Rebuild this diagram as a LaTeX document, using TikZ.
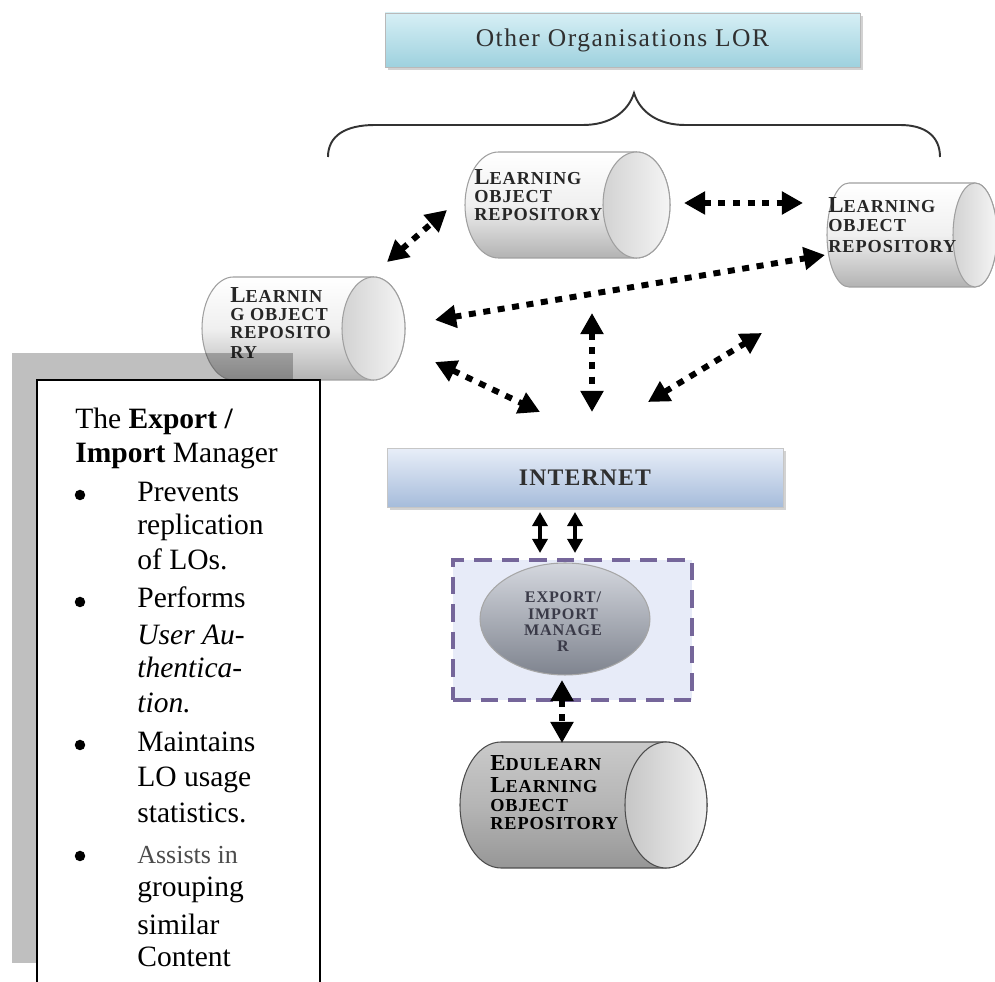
\documentclass[tikz,border=0pt]{standalone}
\usepackage{fontspec}
\setmainfont{Liberation Serif}
\newfontfamily\cylfont[LetterSpace=5]{Liberation Serif}
\newfontfamily\widefont[LetterSpace=6]{Liberation Serif}
\usetikzlibrary{arrows.meta,shadows,shapes.geometric}

\definecolor{lorTop}{HTML}{D6EFF5}
\definecolor{lorBot}{HTML}{9ED1DE}
\definecolor{netTop}{HTML}{E8EEF8}
\definecolor{netBot}{HTML}{A6BCDB}
\definecolor{dashCol}{HTML}{75669A}
\definecolor{dashFill}{HTML}{E7EBF8}
\definecolor{textGray}{HTML}{303030}
\definecolor{ellText}{HTML}{3A3A48}
\definecolor{ellTop}{HTML}{D4D7DE}
\definecolor{ellBot}{HTML}{7F848F}

\newcommand\bigi[1]{{\fontsize{13}{12}\selectfont #1}}

\newcommand\lorcyl[7]{%
  \pgfmathsetmacro\lorXa{#2+#6}%
  \pgfmathsetmacro\lorXb{#4-#6}%
  \pgfmathsetmacro\lorCy{(#3+#5)/2}%
  \pgfmathsetmacro\lorRy{(#5-#3)/2}%
  \path[#7body] (\lorXa,#3) -- (\lorXb,#3)
     arc[start angle=-90,end angle=90,x radius=#6,y radius=\lorRy]
     -- (\lorXa,#5)
     arc[start angle=90,end angle=270,x radius=#6,y radius=\lorRy] -- cycle;
  \path[#7face] (\lorXb,\lorCy) ellipse[x radius=#6,y radius=\lorRy];
  \coordinate (#1) at ({(#2+#4)/2},\lorCy);
}

\tikzset{
  cylbody/.style={draw=gray!75, line width=0.6pt, top color=white, bottom color=gray!60, middle color=gray!12},
  cylface/.style={draw=gray!75, line width=0.6pt, left color=gray!35, right color=gray!8},
  edubody/.style={draw=gray!60!black, line width=0.6pt, top color=gray!42, bottom color=gray!82, middle color=gray!58},
  eduface/.style={draw=gray!60!black, line width=0.6pt, left color=gray!45, right color=gray!12},
  cyltext/.style={anchor=base west, inner sep=0, font=\cylfont\bfseries\fontsize{10.4}{10}\selectfont, text=black!85},
  elltext/.style={anchor=base, inner sep=0, font=\cylfont\bfseries\fontsize{9.2}{9}\selectfont, text=ellText},
  darr/.style={line width=3.4pt, dash pattern=on 4pt off 4.3pt, {Triangle[length=12pt,width=12.5pt]}-{Triangle[length=12pt,width=12.5pt]}},
  sarr/.style={line width=2.6pt, {Triangle[length=8pt,width=8.5pt]}-{Triangle[length=8pt,width=8.5pt]}},
  paneltext/.style={anchor=base west, inner sep=0, font=\fontsize{16.8}{20}\selectfont},
  bulletdot/.style={circle, fill=black, inner sep=0, minimum size=0.21cm},
}

\begin{document}
\begin{tikzpicture}[x=0.02cm, y=-0.02cm]
\useasboundingbox (0,0) rectangle (995,982);
\clip (0,0) rectangle (995,982);

% top box
\node[draw=gray!55, line width=0.5pt, top color=lorTop, bottom color=lorBot,
      minimum width=9.5cm, minimum height=1.08cm, inner sep=0,
      drop shadow={shadow xshift=1.5pt, shadow yshift=-1.5pt, fill=gray!70},
      font=\widefont\fontsize{14.5}{16}\selectfont, text=textGray]
      (orgs) at (622.5,40) {Other Organisations LOR};

% brace
\draw[line width=1.1pt, black!80]
  (328,157) .. controls (328,136) and (345,125) .. (375,125) -- (583,125)
  .. controls (610,125) and (628,112) .. (634,93)
  .. controls (640,112) and (658,125) .. (685,125) -- (900,125)
  .. controls (925,125) and (940,136) .. (940,157);

% cylinders
\lorcyl{cylM}{465}{152}{670}{258}{33.5}{cyl}
\node[cyltext] (tM1) at (474,185) {\bigi{L}EARNING};
\node[cyltext] (tM2) at (474,203) {OBJECT};
\node[cyltext] (tM3) at (474,221) {REPOSITORY};

\lorcyl{cylR}{827}{183}{997}{287}{22}{cyl}
\node[cyltext] (tR1) at (828,213) {\bigi{L}EARNING};
\node[cyltext] (tR2) at (828,232) {OBJECT};
\node[cyltext] (tR3) at (828,253) {REPOSITORY};

\lorcyl{cylL}{202}{277}{405}{380}{31.5}{cyl}
\node[cyltext] (tL1) at (230,303) {\bigi{L}EARNIN};
\node[cyltext] (tL2) at (230,321) {G OBJECT};
\node[cyltext] (tL3) at (230,339) {REPOSITO};
\node[cyltext] (tL4) at (230,359) {RY};

% gray shadow of the panel
\fill[black, opacity=0.25] (12,353) rectangle (293,963);

% panel
\draw[line width=1.7pt, fill=white] (37,380) rectangle (320,1000);
\node[paneltext] (ph1) at (75,429) {The \textbf{Export /}};
\node[paneltext] (ph2) at (75,463) {\textbf{Import} Manager};
\foreach \yy [count=\k] in {495,602,745,856}
  \node[bulletdot] (bul\k) at (80,\yy) {};
\node[paneltext] (pl1) at (137,502) {Prevents};
\node[paneltext] (pl2) at (137,535) {replication};
\node[paneltext] (pl3) at (137,570) {of LOs.};
\node[paneltext] (pl4) at (137,608) {Performs};
\node[paneltext] (pl5) at (137,645) {\textit{User Au-}};
\node[paneltext] (pl6) at (137,678) {\textit{thentica-}};
\node[paneltext] (pl7) at (137,713) {\textit{tion.}};
\node[paneltext] (pl8) at (137,752) {Maintains};
\node[paneltext] (pl9) at (137,787) {LO usage};
\node[paneltext] (pl10) at (137,823) {statistics.};
\node[paneltext, font=\fontsize{14.8}{18}\selectfont, text=black!70] (pl11) at (137,864) {Assists in};
\node[paneltext] (pl12) at (137,897) {grouping};
\node[paneltext] (pl13) at (137,935) {similar};
\node[paneltext] (pl14) at (137,967) {Content};

% internet
\node[draw=gray!45, line width=0.5pt, top color=netTop, bottom color=netBot,
      minimum width=7.92cm, minimum height=1.18cm, inner sep=0,
      drop shadow={shadow xshift=1.5pt, shadow yshift=-1.5pt, fill=gray!70},
      font=\cylfont\bfseries\fontsize{13.5}{14}\selectfont, text=textGray]
      (net) at (585,477.5) {INTERNET};

% dashed manager box
\node[rectangle, minimum width=4.78cm, minimum height=2.8cm, fill=dashFill,
      draw=dashCol, line width=2.8pt, dash pattern=on 10pt off 5.7pt]
      (mbox) at (572.5,630) {};
\node[ellipse, minimum width=3.4cm, minimum height=2.24cm, draw=gray!70,
      line width=0.6pt, top color=ellTop, bottom color=ellBot]
      (mgr) at (565,619) {};
\node[elltext] (e1) at (563,603) {EXPORT/};
\node[elltext] (e2) at (563,620) {IMPORT};
\node[elltext] (e3) at (563,636) {MANAGE};
\node[elltext] (e4) at (563,652) {R};

% edulearn cylinder
\lorcyl{cylE}{460}{742}{707}{868}{41}{edu}
\node[cyltext, text=black] (tE1) at (490,771) {\bigi{E}DULEARN};
\node[cyltext, text=black] (tE2) at (490,793) {\bigi{L}EARNING};
\node[cyltext, text=black] (tE3) at (490,812) {OBJECT};
\node[cyltext, text=black] (tE4) at (490,830) {REPOSITORY};

% arrow end points
\coordinate (a1s) at (387,262); \coordinate (a1e) at (447,210);
\coordinate (a2s) at (684,203); \coordinate (a2e) at (803,203);
\coordinate (a3s) at (435,320); \coordinate (a3e) at (825,255);
\coordinate (a4s) at (592,313); \coordinate (a4e) at (592,412);
\coordinate (a5s) at (435,362); \coordinate (a5e) at (540,412);
\coordinate (a6s) at (648,402); \coordinate (a6e) at (762,333);
\coordinate (s1s) at (540,512); \coordinate (s1e) at (540,553);
\coordinate (s2s) at (575,512); \coordinate (s2e) at (575,553);
\coordinate (a7s) at (562,680); \coordinate (a7e) at (562,743);

\draw[darr] (a1s) -- (a1e);
\draw[darr] (a2s) -- (a2e);
\draw[darr] (a3s) -- (a3e);
\draw[darr] (a4s) -- (a4e);
\draw[darr] (a5s) -- (a5e);
\draw[darr] (a6s) -- (a6e);
\draw[sarr] (s1s) -- (s1e);
\draw[sarr] (s2s) -- (s2e);
\draw[darr] (a7s) -- (a7e);
\end{tikzpicture}
\end{document}
